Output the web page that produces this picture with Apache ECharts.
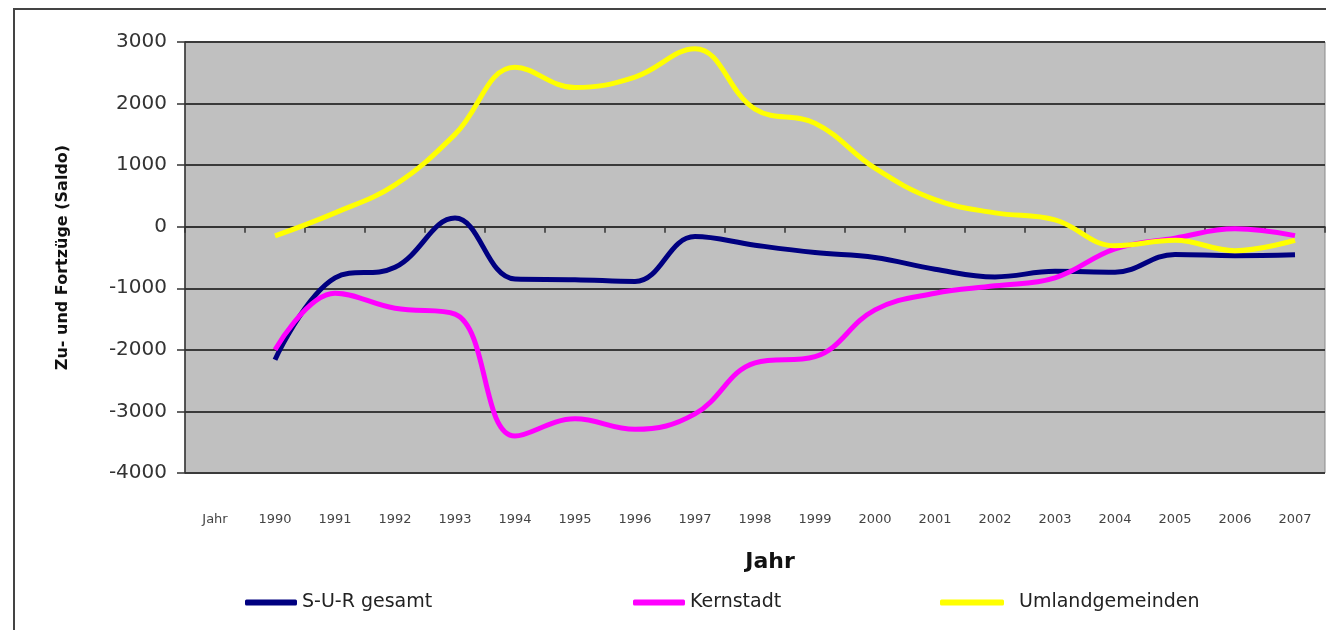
<!DOCTYPE html>
<html>
<head>
<meta charset="utf-8">
<script src="https://cdn.jsdelivr.net/npm/echarts@6/dist/echarts.min.js"></script>
<style>
  html, body { margin: 0; padding: 0; background: #fff; }
  #main { width: 1326px; height: 630px; }
</style>
</head>
<body>
<div id="main"></div>
<script>
var years = ['Jahr', '1990', '1991', '1992', '1993', '1994', '1995', '1996', '1997', '1998',
  '1999', '2000', '2001', '2002', '2003', '2004', '2005', '2006', '2007'];

var surGesamt = [null, -2160, -830, -660, 140, -850, -860, -890, -160, -300,
  -420, -500, -690, -815, -725, -740, -450, -470, -455];
var kernstadt = [null, -2000, -1080, -1325, -1420, -3400, -3120, -3290, -3040, -2210,
  -2110, -1350, -1080, -960, -830, -360, -185, -35, -145];
var umland = [null, -150, 225, 680, 1500, 2590, 2260, 2430, 2890, 1910,
  1680, 950, 440, 225, 110, -310, -220, -390, -220];

var chartDom = document.getElementById('main');
var myChart = echarts.init(chartDom);
var option;

var fontFam = 'DejaVu Sans';

option = {
  animation: false,
  graphic: [
    {
      type: 'rect',
      shape: { x: 14, y: 9, width: 1400, height: 700 },
      style: { fill: 'none', stroke: '#444', lineWidth: 2 },
      silent: true
    }
  ],
  grid: {
    left: 185,
    right: 1,
    top: 42,
    bottom: 157,
    show: true,
    backgroundColor: '#c0c0c0',
    borderColor: '#8a8a8a',
    borderWidth: 1
  },
  legend: [
    {
      left: 240, top: 588,
      data: ['S-U-R gesamt'],
      icon: 'roundRect', itemWidth: 52, itemHeight: 6, itemGap: 4,
      textStyle: { fontFamily: fontFam, fontSize: 19, color: '#222' }
    },
    {
      left: 628, top: 588,
      data: ['Kernstadt'],
      icon: 'roundRect', itemWidth: 52, itemHeight: 6,
      textStyle: { fontFamily: fontFam, fontSize: 19, color: '#222' }
    },
    {
      left: 935, top: 588,
      data: ['Umlandgemeinden'],
      icon: 'roundRect', itemWidth: 64, itemHeight: 6,
      textStyle: { fontFamily: fontFam, fontSize: 19, color: '#222', padding: [0, 0, 0, 10] }
    }
  ],
  xAxis: [
    {
      type: 'category',
      data: years,
      position: 'bottom',
      boundaryGap: true,
      axisLine: { show: false, onZero: false },
      axisTick: { show: false },
      axisLabel: {
        margin: 40,
        fontFamily: fontFam,
        fontSize: 13,
        color: '#444',
        interval: 0
      },
      name: 'Jahr',
      nameLocation: 'middle',
      nameGap: 78,
      nameTextStyle: { fontFamily: fontFam, fontSize: 22, fontWeight: 'bold', color: '#111', padding: [0, 0, 0, 30] }
    },
    {
      type: 'category',
      data: years,
      position: 'top',
      boundaryGap: true,
      axisLine: { show: true, onZero: true, lineStyle: { color: '#333', width: 1.5 } },
      axisTick: { show: true, inside: true, length: 6, lineStyle: { color: '#333', width: 1.5 } },
      axisLabel: { show: false }
    }
  ],
  yAxis: {
    type: 'value',
    min: -4000,
    max: 3000,
    interval: 1000,
    axisLine: { show: true, lineStyle: { color: '#333', width: 1.5 } },
    axisTick: { show: true, length: 8, lineStyle: { color: '#333', width: 1.5 } },
    axisLabel: {
      margin: 18,
      fontFamily: fontFam,
      fontSize: 20,
      color: '#333',
      formatter: function (v) { return String(v); }
    },
    splitLine: { show: true, lineStyle: { color: '#3a3a3a', width: 2 } },
    name: 'Zu- und Fortzüge (Saldo)',
    nameLocation: 'middle',
    nameRotate: 90,
    nameGap: 114,
    nameTextStyle: { fontFamily: fontFam, fontSize: 16, fontWeight: 'bold', color: '#111', padding: [0, 0, 0, 0] }
  },
  series: [
    {
      name: 'S-U-R gesamt',
      type: 'line',
      xAxisIndex: 0,
      data: surGesamt,
      smooth: 0.4,
      showSymbol: false,
      lineStyle: { color: '#000080', width: 5 },
      itemStyle: { color: '#000080' }
    },
    {
      name: 'Kernstadt',
      type: 'line',
      xAxisIndex: 0,
      data: kernstadt,
      smooth: 0.4,
      showSymbol: false,
      lineStyle: { color: '#ff00ff', width: 5 },
      itemStyle: { color: '#ff00ff' }
    },
    {
      name: 'Umlandgemeinden',
      type: 'line',
      xAxisIndex: 0,
      data: umland,
      smooth: 0.4,
      showSymbol: false,
      lineStyle: { color: '#ffff00', width: 5 },
      itemStyle: { color: '#ffff00' }
    }
  ]
};

option && myChart.setOption(option);
</script>
</body>
</html>
